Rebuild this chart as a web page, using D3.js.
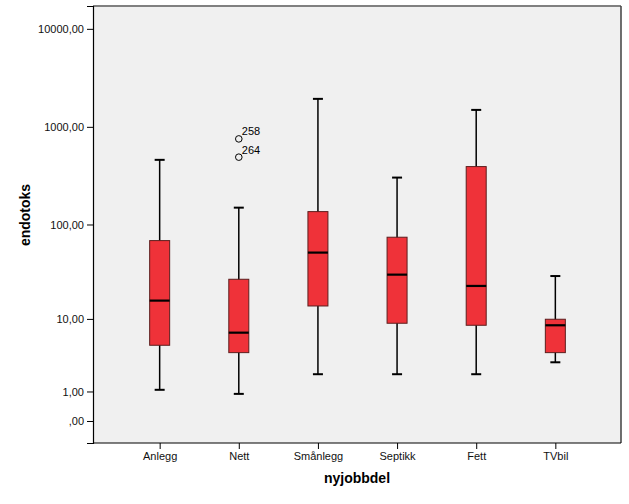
<!DOCTYPE html>
<html><head><meta charset="utf-8">
<script src="https://cdn.jsdelivr.net/npm/d3@7"></script>
<style>body{margin:0;background:#fff;}svg{display:block;font-family:"Liberation Sans",Arial,sans-serif;}</style>
</head><body>
<svg id="c" width="629" height="504"></svg>
<script>
const categories = ["Anlegg","Nett","Smånlegg","Septikk","Fett","TVbil"];
const whiskerLow  = [1.08, 0.89, 2.0, 2.0, 2.0, 2.97];
const q1          = [4.92, 3.98, 13.9, 8.93, 8.47, 3.98];
const medians     = [15.9, 6.96, 51.2, 30.1, 22.85, 8.47];
const q3          = [68.2, 26.9, 135.7, 73.9, 392.6, 9.91];
const whiskerHigh = [460, 149, 1930, 303, 1489, 29.1];
const outliers = [
  {cat:"Nett", value:753, label:"258"},
  {cat:"Nett", value:490, label:"264"}
];
const yTicks = [0, 1, 10, 100, 1000, 10000];
const yTickLabels = [",00", "1,00", "10,00", "100,00", "1000,00", "10000,00"];

const L=93, R=621, T=6, B=443;
const svg = d3.select("#c");
const x = d3.scalePoint().domain(categories).range([L,R]).padding(0.836);
const y = d3.scaleSymlog().constant(1).domain([-0.677, 17100]).range([B,T]);

svg.append("rect").attr("x",L).attr("y",T).attr("width",R-L).attr("height",B-T).attr("fill","#f0f0f0");

const data = categories.map((c,i)=>({c, lo:whiskerLow[i], q1:q1[i], med:medians[i], q3:q3[i], hi:whiskerHigh[i]}));
const bw=20, cw=10;
const g = svg.append("g");
data.forEach(d=>{
  const cx = x(d.c)+0.5;
  g.append("line").attr("x1",cx).attr("x2",cx).attr("y1",y(d.hi)).attr("y2",y(d.lo)).attr("stroke","#000").attr("stroke-width",1.5);
  g.append("line").attr("x1",cx-cw/2).attr("x2",cx+cw/2).attr("y1",y(d.hi)).attr("y2",y(d.hi)).attr("stroke","#000").attr("stroke-width",2);
  g.append("line").attr("x1",cx-cw/2).attr("x2",cx+cw/2).attr("y1",y(d.lo)).attr("y2",y(d.lo)).attr("stroke","#000").attr("stroke-width",2);
  g.append("rect").attr("x",cx-bw/2).attr("y",y(d.q3)).attr("width",bw).attr("height",y(d.q1)-y(d.q3))
    .attr("fill","#ef3239").attr("stroke","#5c1e1e").attr("stroke-width",1);
  g.append("line").attr("x1",cx-bw/2).attr("x2",cx+bw/2).attr("y1",y(d.med)).attr("y2",y(d.med)).attr("stroke","#000").attr("stroke-width",2.2);
});
outliers.forEach(o=>{
  const cx = x(o.cat)+0.5;
  g.append("circle").attr("cx",cx).attr("cy",y(o.value)).attr("r",3.3).attr("fill","none").attr("stroke","#000").attr("stroke-width",1);
  g.append("text").attr("x",cx+3).attr("y",y(o.value)-3.5).attr("font-size",11).attr("fill","#000").text(o.label);
});

// frame
svg.append("line").attr("x1",L).attr("x2",R).attr("y1",T).attr("y2",T).attr("stroke","#808080").attr("stroke-width",2);
svg.append("line").attr("x1",R).attr("x2",R).attr("y1",T).attr("y2",B).attr("stroke","#404040").attr("stroke-width",1.5);

// axes
const yAxis = d3.axisLeft(y).tickValues(yTicks).tickFormat((d,i)=>yTickLabels[i]).tickSizeOuter(0).tickSize(6).tickPadding(3);
const ya = svg.append("g").attr("transform",`translate(${L},0)`).call(yAxis);
ya.select(".domain").attr("stroke","#000").attr("stroke-width",1.2);
ya.selectAll(".tick line").attr("stroke","#000");
ya.selectAll("text").attr("font-size",11).attr("font-family","Liberation Sans, Arial, sans-serif").attr("fill","#111");

const xAxis = d3.axisBottom(x).tickSizeOuter(0).tickSize(6).tickPadding(3);
const xa = svg.append("g").attr("transform",`translate(0.5,${B})`).call(xAxis);
xa.select(".domain").attr("stroke","#000").attr("stroke-width",1.2).attr("d",`M${L-0.5},0H${R-0.5}`);
xa.selectAll(".tick line").attr("stroke","#000");
xa.selectAll("text").attr("font-size",11).attr("font-family","Liberation Sans, Arial, sans-serif").attr("fill","#111");

svg.append("text").attr("transform","translate(30,215) rotate(-90)").attr("text-anchor","middle")
  .attr("font-size",14).attr("font-weight","bold").attr("fill","#000").text("endotoks");
svg.append("text").attr("x",(L+R)/2).attr("y",483).attr("text-anchor","middle")
  .attr("font-size",14).attr("font-weight","bold").attr("fill","#000").text("nyjobbdel");
</script>
</body></html>
